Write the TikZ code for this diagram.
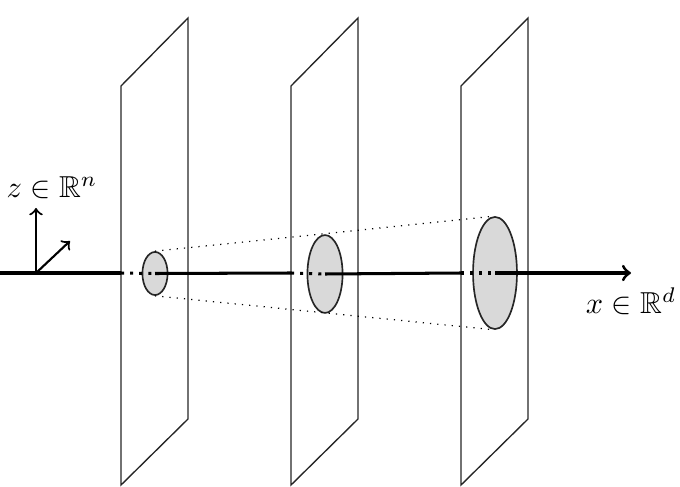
\documentclass[tikz,border=0pt]{standalone}
\usepackage{amssymb}
\usetikzlibrary{shapes.geometric}
\begin{document}
\begin{tikzpicture}[x=0.33pt,y=-0.33pt,
  plane/.style={draw=black!85,line width=0.45pt,line join=miter},
  disc/.style={ellipse,draw=black!85,line width=0.55pt,fill=gray!30,inner sep=0pt},
  axis/.style={line width=1pt},
  hidden/.style={line width=1pt,dotted},
  ray/.style={dotted,line width=0.4pt},
  frame/.style={line width=0.7pt,->}]
\useasboundingbox (0,0) rectangle (680,486);
% planes
\foreach \L/\n in {121/1,291/2,461/3}{
  \draw[plane] (\L,485) -- (\L,86) -- (\L+67,18) -- (\L+67,419) -- cycle;
}
% axis points
\coordinate (a0) at (0,273);
\coordinate (p1) at (121,273);
\coordinate (p2) at (291,273);
\coordinate (p3) at (461,273);
\coordinate (tip) at (631,273);
% discs
\node[disc,minimum width=8.3pt,minimum height=14.2pt] (e1) at (155,273.5) {};
\node[disc,minimum width=11.6pt,minimum height=25.7pt] (e2) at (325,274) {};
\node[disc,minimum width=14.5pt,minimum height=37pt] (e3) at (495,273) {};
% rays
\draw[ray] (e1.north) -- (e3.north);
\draw[ray] (e1.south) -- (e3.south);
% axis
\draw[axis] (a0) -- (p1);
\draw[hidden] (p1) -- (e1.center);
\draw[axis] (e1.center) -- (p2);
\draw[hidden] (p2) -- (e2.center);
\draw[axis] (e2.center) -- (p3);
\draw[hidden] (p3) -- (e3.center);
\draw[axis,->] (e3.center) -- (tip);
% frame
\coordinate (o) at (36,273);
\coordinate (zup) at (36,208);
\coordinate (zdiag) at (70,241);
\draw[frame] (o) -- (zup);
\draw[frame] (o) -- (zdiag);
% labels
\node (zl) at (52,188) {$z\in\mathbb{R}^n$};
\node (xl) at (631,301) {$x\in\mathbb{R}^d$};
\end{tikzpicture}
\end{document}
